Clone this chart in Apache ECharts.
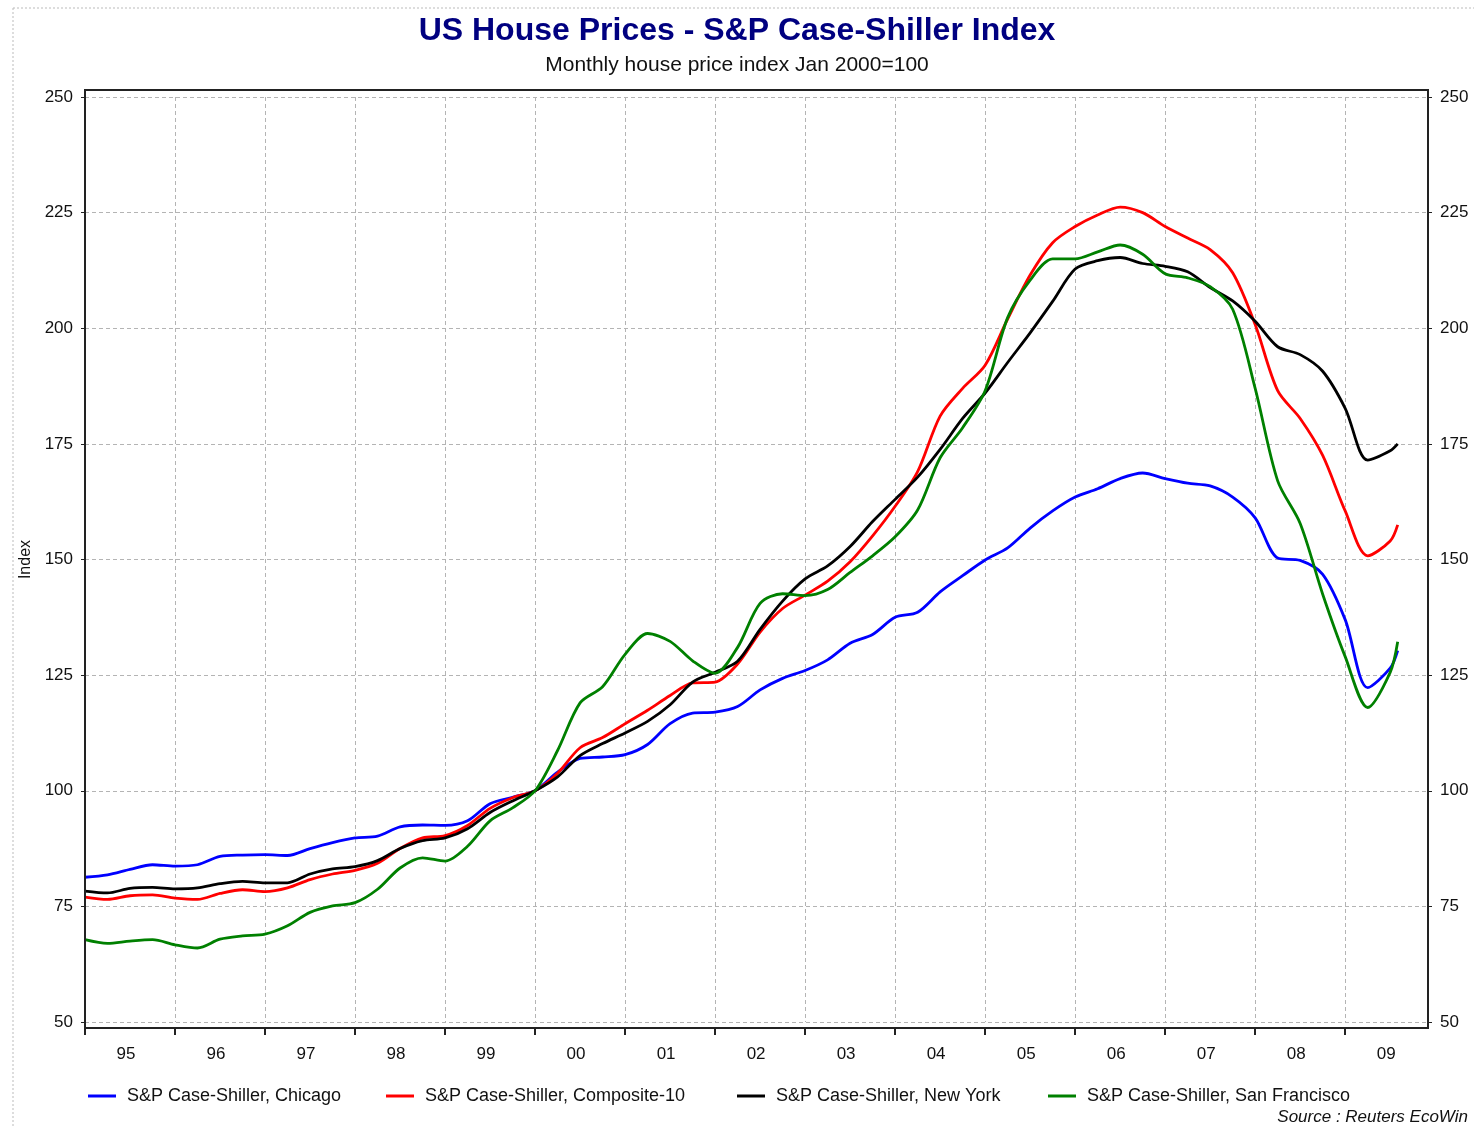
<!DOCTYPE html>
<html lang="en">
<head>
    <meta charset="UTF-8">
    <title>US House Prices - S&amp;P Case-Shiller Index</title>
    <script src="https://cdn.jsdelivr.net/npm/echarts@6/dist/echarts.min.js"></script>
</head>
<body style="margin:0;background:#fff">
<div id="main" style="width:1474px;height:1128px;"></div>
<script>
    // quarterly readings, last point is Aug 2009
    const dates = [
        '1995-01', '1995-04', '1995-07', '1995-10', '1996-01', '1996-04', '1996-07', '1996-10',
        '1997-01', '1997-04', '1997-07', '1997-10', '1998-01', '1998-04', '1998-07', '1998-10',
        '1999-01', '1999-04', '1999-07', '1999-10', '2000-01', '2000-04', '2000-07', '2000-10',
        '2001-01', '2001-04', '2001-07', '2001-10', '2002-01', '2002-04', '2002-07', '2002-10',
        '2003-01', '2003-04', '2003-07', '2003-10', '2004-01', '2004-04', '2004-07', '2004-10',
        '2005-01', '2005-04', '2005-07', '2005-10', '2006-01', '2006-04', '2006-07', '2006-10',
        '2007-01', '2007-04', '2007-07', '2007-10', '2008-01', '2008-04', '2008-07', '2008-10',
        '2009-01', '2009-04', '2009-07', '2009-08'
    ];
    const chicago = [
        81.3, 81.8, 83.0, 84.0, 83.7, 84.0, 85.8, 86.1,
        86.2, 86.0, 87.5, 88.8, 89.8, 90.2, 92.2, 92.6,
        92.5, 93.5, 97.2, 98.6, 100.0, 104.0, 107.0, 107.3,
        107.8, 110.0, 114.5, 116.8, 117.0, 118.2, 121.8, 124.3,
        126.0, 128.3, 131.9, 133.8, 137.5, 138.6, 143.0, 146.5,
        149.9, 152.5, 156.8, 160.5, 163.5, 165.3, 167.5, 168.7,
        167.5, 166.5, 165.9, 163.5, 159.0, 150.3, 149.8, 146.8,
        137.0, 122.3, 126.5, 130.3
    ];
    const composite10 = [
        77.0, 76.5, 77.3, 77.5, 76.8, 76.5, 77.8, 78.6,
        78.2, 79.0, 80.8, 82.0, 82.8, 84.3, 87.5, 89.8,
        90.3, 92.5, 96.2, 98.5, 100.0, 103.8, 109.3, 111.5,
        114.5, 117.4, 120.6, 123.3, 123.5, 127.4, 134.3, 139.4,
        142.3, 145.3, 149.5, 155.1, 161.5, 169.0, 181.0, 187.0,
        192.0, 202.0, 211.5, 218.5, 222.0, 224.5, 226.2, 225.0,
        222.0, 219.5, 217.0, 212.0, 200.8, 186.5, 180.5, 172.5,
        160.5, 150.8, 154.0, 157.5
    ];
    const newYork = [
        78.3, 77.9, 78.9, 79.1, 78.8, 79.0, 79.9, 80.4,
        80.1, 80.1, 82.0, 83.1, 83.6, 84.9, 87.5, 89.2,
        89.8, 91.8, 95.3, 97.8, 100.0, 103.0, 107.6, 110.2,
        112.5, 115.0, 118.6, 123.5, 125.6, 128.0, 134.9, 141.0,
        145.8, 148.6, 152.8, 158.2, 163.0, 167.8, 173.8, 180.5,
        186.0, 192.6, 199.0, 205.8, 212.8, 214.6, 215.3, 214.0,
        213.4, 212.2, 208.8, 205.9, 201.5, 196.0, 194.3, 190.7,
        182.7, 171.5, 173.5, 175.0
    ];
    const sanFrancisco = [
        67.8, 67.0, 67.5, 67.8, 66.7, 66.0, 67.9, 68.6,
        69.0, 70.8, 73.7, 75.1, 75.8, 78.7, 83.3, 85.5,
        84.8, 88.0, 93.5, 96.3, 100.0, 108.7, 119.0, 122.5,
        129.5, 134.0, 132.3, 128.1, 125.4, 131.0, 140.5, 142.6,
        142.2, 143.5, 147.2, 150.8, 154.9, 160.7, 172.0, 178.5,
        186.5, 202.3, 210.4, 215.0, 215.0, 216.5, 218.0, 216.0,
        211.8, 210.9, 209.0, 204.1, 187.0, 167.0, 157.8, 142.5,
        129.0, 118.0, 125.6, 132.2
    ];
    const seriesNames = [
        'S&P Case-Shiller, Chicago',
        'S&P Case-Shiller, Composite-10',
        'S&P Case-Shiller, New York',
        'S&P Case-Shiller, San Francisco'
    ];
    const seriesColors = ['#0000ff', '#ff0000', '#000000', '#008000'];
    const yTicks = [50, 75, 100, 125, 150, 175, 200, 225, 250];

    const font = 'Liberation Sans, Arial, sans-serif';

    function toYear(d) {
        const p = d.split('-');
        return Number(p[0]) + (Number(p[1]) - 1) / 12;
    }

    const allValues = [chicago, composite10, newYork, sanFrancisco];
    const series = allValues.map(function (vals, i) {
        return {
            name: seriesNames[i],
            type: 'line',
            showSymbol: false,
            smooth: 0.3,
            color: seriesColors[i],
            lineStyle: {width: 2.8, color: seriesColors[i]},
            data: dates.map(function (d, j) {
                return [toYear(d), vals[j]];
            })
        };
    });

    const gridLine = {show: true, lineStyle: {color: '#b4b4b4', type: [4, 3], width: 1}};
    const legendLeft = [88, 386, 737, 1048];

    const yAxisBase = {
        type: 'value',
        min: yTicks[0],
        max: yTicks[yTicks.length - 1],
        interval: 25,
        axisLine: {show: false},
        axisTick: {show: true, length: 4, lineStyle: {color: '#222'}},
        splitLine: gridLine,
        axisLabel: {color: '#111', fontSize: 17, fontFamily: font, margin: 12}
    };

    const myChart = echarts.init(document.getElementById('main'));
    const option = {
        animation: false,
        backgroundColor: '#fff',
        title: {
            text: 'US House Prices - S&P Case-Shiller Index',
            subtext: 'Monthly house price index Jan 2000=100',
            left: 'center',
            top: 10,
            itemGap: 8,
            textStyle: {color: '#000080', fontSize: 32, fontWeight: 'bold', fontFamily: font},
            subtextStyle: {color: '#111', fontSize: 21, fontFamily: font}
        },
        legend: seriesNames.map(function (n, i) {
            return {
                data: [n],
                left: legendLeft[i],
                top: 1087,
                padding: 0,
                icon: 'rect',
                itemWidth: 28,
                itemHeight: 3,
                selectedMode: false,
                textStyle: {color: '#111', fontSize: 18, fontFamily: font, padding: [0, 0, 0, 6]}
            };
        }),
        grid: {left: 85, right: 46, top: 97, bottom: 106},
        xAxis: {
            type: 'value',
            min: 1995,
            max: 2009.92,
            interval: 1,
            offset: 6,
            axisLine: {show: false},
            axisTick: {show: true, length: 7, lineStyle: {color: '#222', width: 2}},
            splitLine: gridLine,
            axisLabel: {
                color: '#111', fontSize: 17, fontFamily: font, margin: 18,
                padding: [0, 0, 0, 82],
                showMaxLabel: false,
                formatter: function (v) {
                    return Number.isInteger(v) ? String(v).slice(2) : '';
                }
            }
        },
        yAxis: [
            Object.assign({}, yAxisBase, {
                position: 'left',
                name: 'Index',
                nameLocation: 'middle',
                nameRotate: 90,
                nameGap: 46,
                nameTextStyle: {color: '#111', fontSize: 16, fontFamily: font}
            }),
            Object.assign({}, yAxisBase, {position: 'right', splitLine: {show: false}})
        ],
        graphic: [
            {
                type: 'rect', z: 100, silent: true,
                shape: {x: 85, y: 90, width: 1343, height: 938},
                style: {fill: 'none', stroke: '#222', lineWidth: 2}
            },
            {
                type: 'line', silent: true,
                shape: {x1: 13, y1: 8, x2: 1474, y2: 8},
                style: {stroke: '#bbb', lineWidth: 1, lineDash: [2, 2]}
            },
            {
                type: 'line', silent: true,
                shape: {x1: 13, y1: 8, x2: 13, y2: 1128},
                style: {stroke: '#bbb', lineWidth: 1, lineDash: [2, 2]}
            },
            {
                type: 'text', right: 6, top: 1109,
                style: {text: 'Source : Reuters EcoWin', fill: '#111', font: 'italic 17px ' + font}
            }
        ],
        series: series
    };
    myChart.setOption(option);
</script>
</body>
</html>
